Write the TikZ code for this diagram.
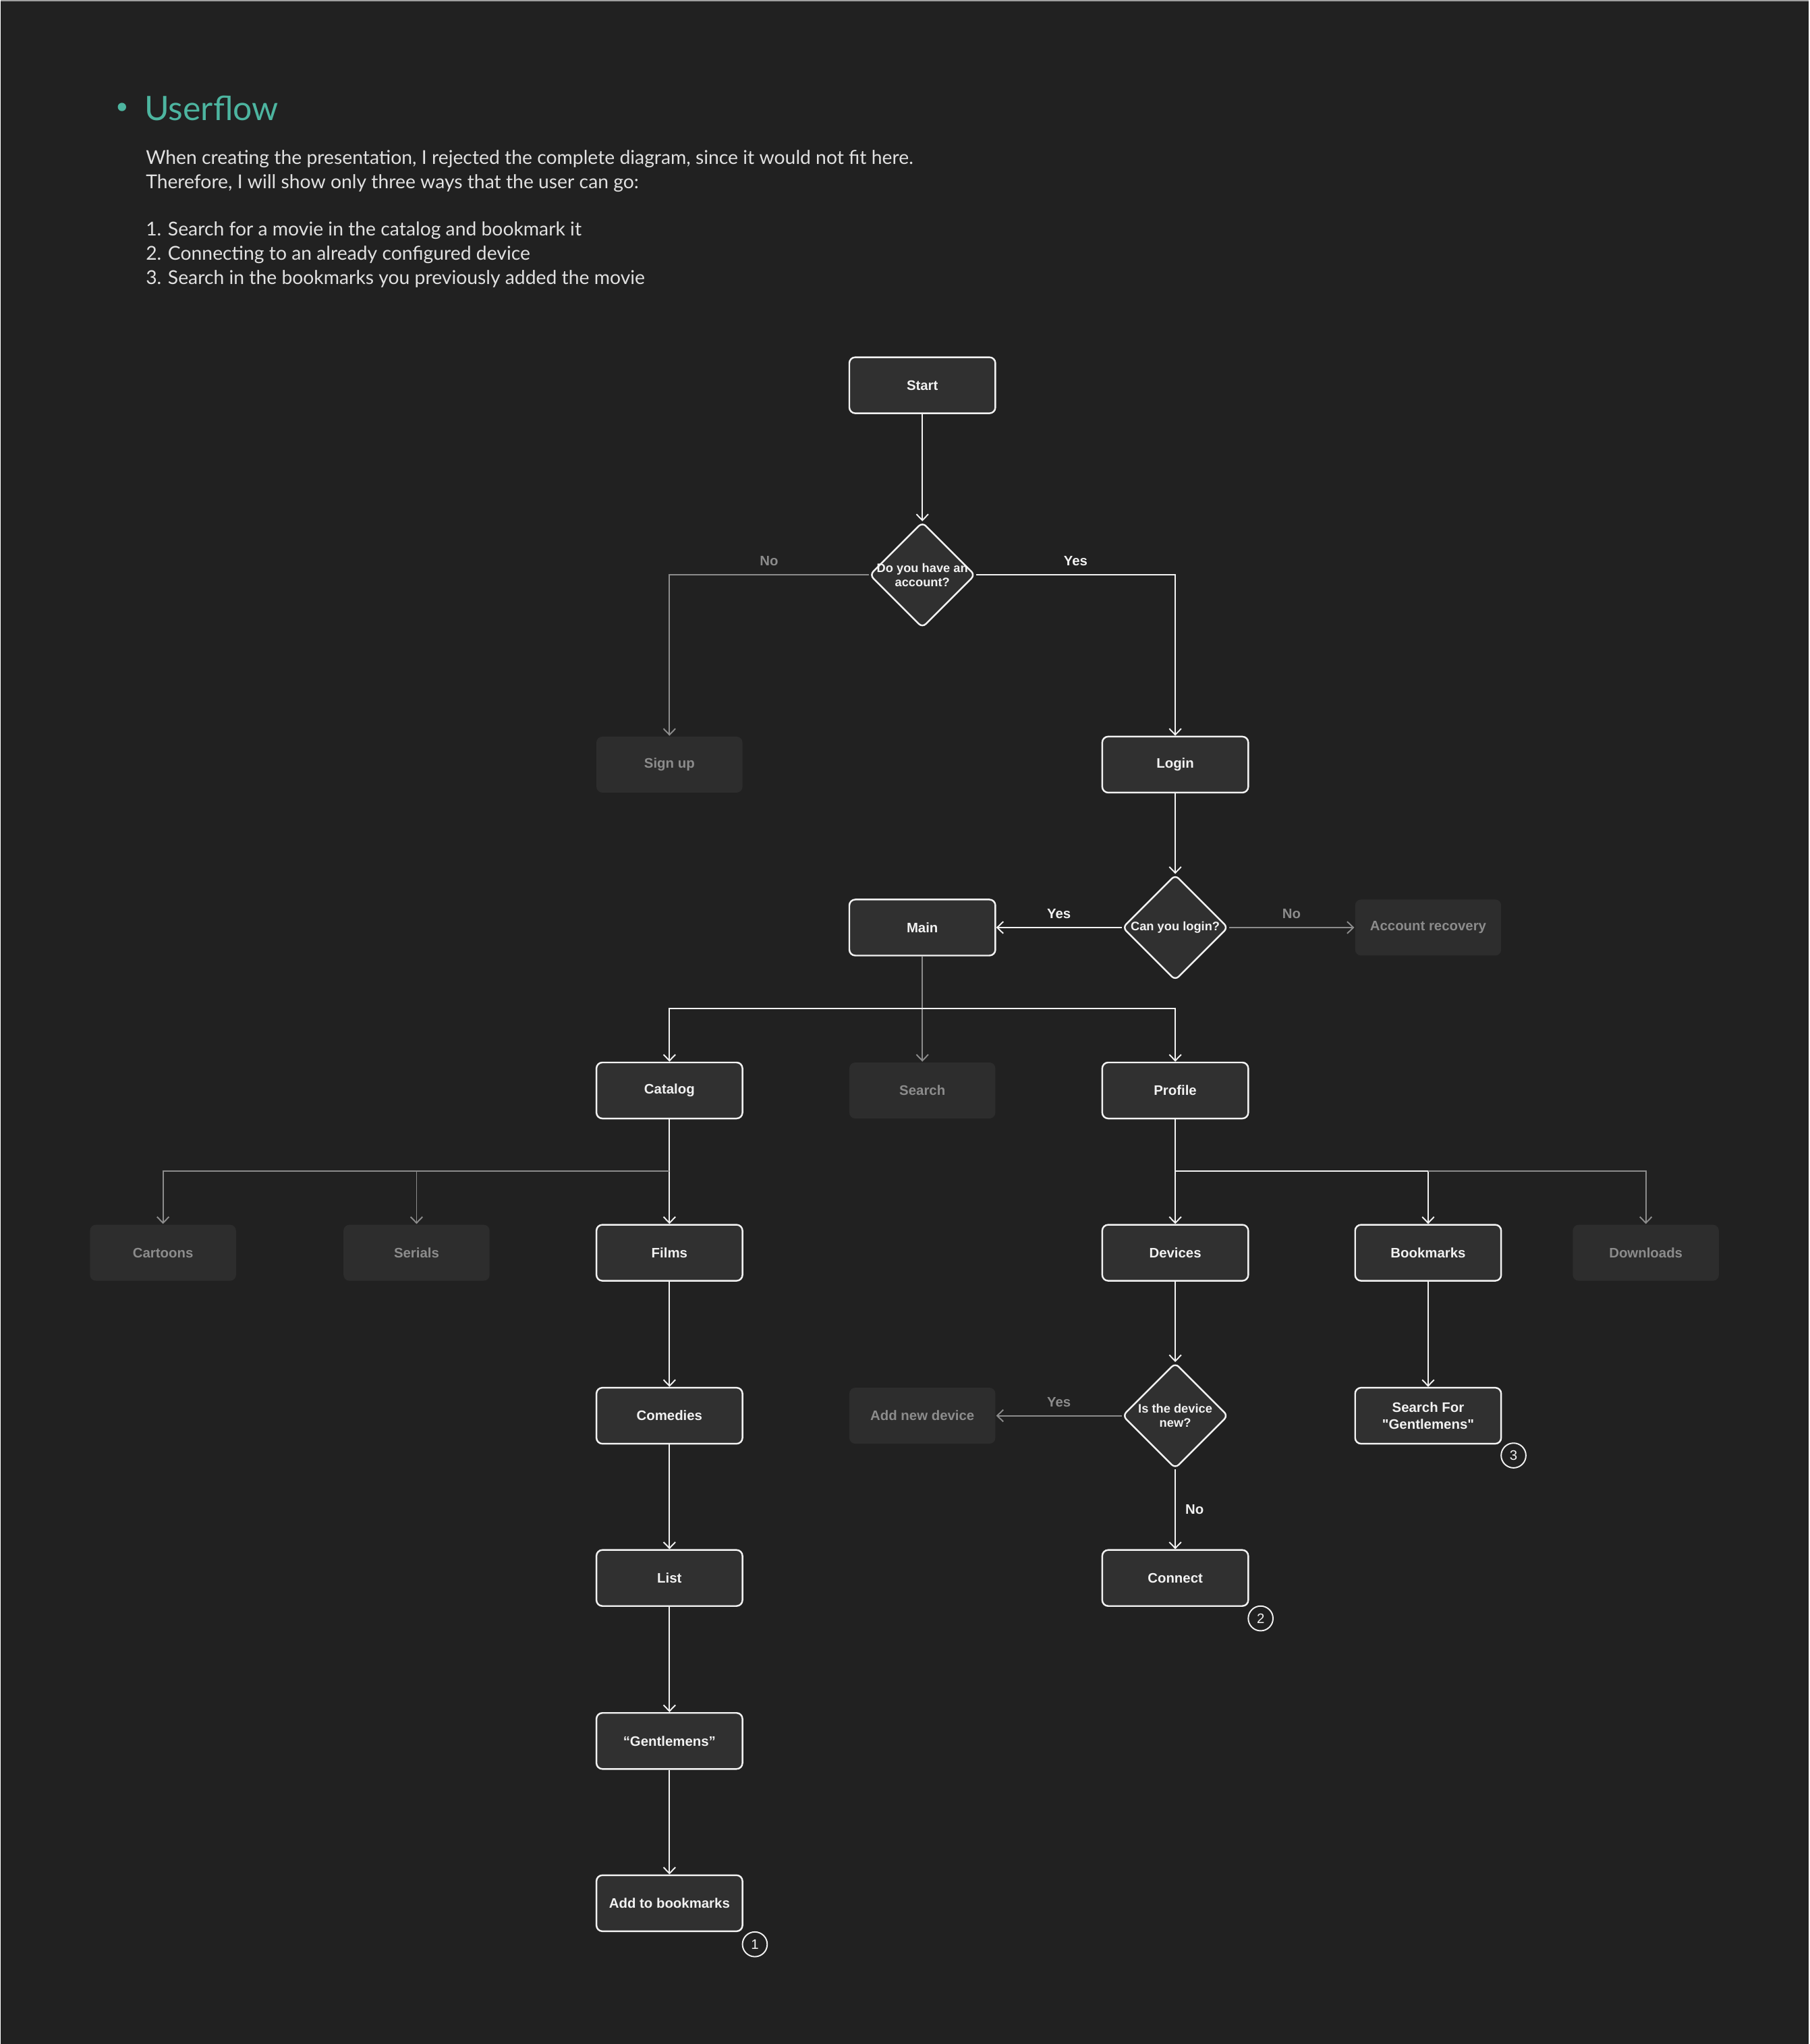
\documentclass[tikz,border=0pt]{standalone}
\usepackage{fontspec}
\setmainfont{Lato}
\newfontfamily\boxfont{Liberation Sans}
\usetikzlibrary{arrows.meta,shapes.geometric}

\definecolor{bg}{HTML}{212121}
\definecolor{edge}{HTML}{A0A0A0}
\definecolor{boxfill}{HTML}{303030}
\definecolor{ghostfill}{HTML}{2D2D2D}
\definecolor{fg}{HTML}{F2F2F2}
\definecolor{dim}{HTML}{8C8C8C}
\definecolor{teal}{HTML}{4DB5A0}

\tikzset{
  box/.style={rectangle, rounded corners=2.5pt, draw=fg, line width=0.7pt,
    fill=boxfill, minimum width=2.164cm, minimum height=0.83cm, inner sep=0pt,
    text=fg, align=center, font=\boxfont\bfseries\fontsize{5.8}{7.1}\selectfont},
  ghost/.style={box, draw=none, fill=ghostfill, text=dim},
  decision/.style={diamond, draw=fg, line width=0.7pt, fill=boxfill,
    minimum width=1.565cm, minimum height=1.565cm, inner sep=0pt, rounded corners=2pt},
  dtext/.style={text=fg, align=center, inner sep=0pt,
    font=\boxfont\bfseries\fontsize{5.2}{6}\selectfont},
  flow/.style={draw=fg, line width=0.55pt, -{Straight Barb[length=2.6pt,width=5pt]}},
  dimflow/.style={flow, draw=dim},
  lbl/.style={text=fg, inner sep=0pt, font=\boxfont\bfseries\fontsize{5.8}{7}\selectfont},
  dimlbl/.style={lbl, text=dim},
  badge/.style={circle, draw=fg, line width=0.55pt, minimum size=0.367cm, inner sep=0pt,
    text=fg, font=\boxfont\fontsize{5.8}{7}\selectfont},
  intro/.style={anchor=base west, inner sep=0pt, text=fg!92!bg, font=\fontsize{8.05}{10}\selectfont}
}

\begin{document}
\begin{tikzpicture}[x=0.019322cm, y=-0.019322cm]
    % page
    \fill[bg] (0,0) rectangle (1387,1568);
    \draw[edge, line width=0.6pt] (0,0.5) -- (1387,0.5);

    % heading
    \fill[teal] (93,82) circle (3.2);
    \node[anchor=west, inner sep=0pt, text=teal, font=\fontsize{14.2}{17}\selectfont] (title) at (110,83) {Userflow};
    \node[intro] (intro1) at (111,126) {When creating the presentation, I rejected the complete diagram, since it would not fit here.};
    \node[intro] (intro2) at (111,144.5) {Therefore, I will show only three ways that the user can go:};
    \node[intro] (intro3) at (111,181) {1. Search for a movie in the catalog and bookmark it};
    \node[intro] (intro4) at (111,199.5) {2. Connecting to an already configured device};
    \node[intro] (intro5) at (111,218) {3. Search in the bookmarks you previously added the movie};

    % nodes
    \node[box] (start) at (707,295.5) {Start};
    \node[decision] (account) at (707,441) {};
    \node[dtext] (account-t) at (account) {Do you have an\\account?};
    \node[ghost] (signup) at (513,586.5) {Sign up};
    \node[box] (login) at (901,586.5) {Login};
    \node[decision] (canlogin) at (901,711.5) {};
    \node[dtext] (canlogin-t) at (canlogin) {Can you login?};
    \node[box] (main) at (707,711.5) {Main};
    \node[ghost] (recovery) at (1095,711.5) {Account recovery};

    \node[box] (catalog) at (513,836.5) {Catalog};
    \node[ghost] (search) at (707,836.5) {Search};
    \node[box] (profile) at (901,836.5) {Profile};

    \node[ghost] (cartoons) at (124.5,961) {Cartoons};
    \node[ghost] (serials) at (319,961) {Serials};
    \node[box] (films) at (513,961) {Films};
    \node[box] (devices) at (901,961) {Devices};
    \node[box] (bookmarks) at (1095,961) {Bookmarks};
    \node[ghost] (downloads) at (1262,961) {Downloads};

    \node[box] (comedies) at (513,1086) {Comedies};
    \node[ghost] (newdevice) at (707,1086) {Add new device};
    \node[decision] (isnew) at (901,1086) {};
    \node[dtext] (isnew-t) at (isnew) {Is the device\\new?};
    \node[box] (searchfor) at (1095,1086) {Search For\\"Gentlemens"};

    \node[box] (list) at (513,1210.5) {List};
    \node[box] (connect) at (901,1210.5) {Connect};
    \node[box] (movie) at (513,1335.5) {“Gentlemens”};
    \node[box] (addbm) at (513,1460) {Add to bookmarks};

    \node[badge] (n1) at (578.5,1491.5) {1};
    \node[badge] (n2) at (966.5,1241.5) {2};
    \node[badge] (n3) at (1160.5,1116.5) {3};

    % forks
    \coordinate (mfork) at (707,773.5);
    \coordinate (cfork) at (513,898.5);
    \coordinate (pfork) at (901,898.5);
    \coordinate (bfork) at (1095,898.5);

    % connectors
    \draw[flow] (start) -- (account);
    \draw[dimflow] (account) -| node[dimlbl, pos=0.25, above=3.5pt] (no1) {No} (signup);
    \draw[flow] (account) -| node[lbl, pos=0.25, above=3.5pt] (yes1) {Yes} (login);
    \draw[flow] (login) -- (canlogin);
    \draw[flow] (canlogin) -- node[lbl, above=3.5pt] (yes2) {Yes} (main);
    \draw[dimflow] (canlogin) -- node[dimlbl, above=3.5pt] (no2) {No} (recovery);

    \draw[dimflow] (main) -- (search);
    \draw[flow] (mfork) -| (catalog);
    \draw[flow] (mfork) -| (profile);

    \draw[flow] (catalog) -- (films);
    \draw[dimflow] (cfork) -| (serials);
    \draw[dimflow] (cfork) -| (cartoons);
    \draw[flow] (films) -- (comedies);
    \draw[flow] (comedies) -- (list);
    \draw[flow] (list) -- (movie);
    \draw[flow] (movie) -- (addbm);

    \draw[flow] (profile) -- (devices);
    \draw[flow] (pfork) -| (bookmarks);
    \draw[dimflow] (bfork) -| (downloads);
    \draw[flow] (devices) -- (isnew);
    \draw[dimflow] (isnew) -- node[dimlbl, above=3.5pt] (yes3) {Yes} (newdevice);
    \draw[flow] (isnew) -- node[lbl, right=4pt, pos=0.5] (no3) {No} (connect);
    \draw[flow] (bookmarks) -- (searchfor);

\end{tikzpicture}
\end{document}
